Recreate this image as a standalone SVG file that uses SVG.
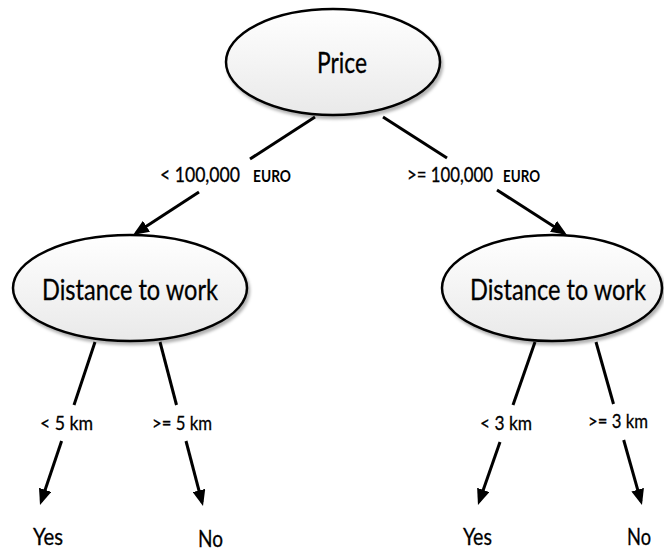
<svg xmlns="http://www.w3.org/2000/svg" width="664" height="551" viewBox="0 0 664 551">
<defs>
<linearGradient id="g" x1="0" y1="0" x2="0" y2="1">
<stop offset="0" stop-color="#ffffff"/>
<stop offset="1" stop-color="#e9e9e9"/>
</linearGradient>
<filter id="sh" x="-10%" y="-10%" width="125%" height="130%">
<feDropShadow dx="2" dy="3" stdDeviation="1.5" flood-color="#000" flood-opacity="0.3"/>
</filter>
<marker id="ah" viewBox="0 0 16 13" refX="12" refY="6.5" markerWidth="16" markerHeight="13" orient="auto" markerUnits="userSpaceOnUse">
<path d="M0,0 L16,6.5 L0,13 z" fill="#000"/>
</marker>
</defs>
<style>
.node{fill:url(#g);stroke:#000;stroke-width:2.5;filter:url(#sh)}
.lbl{font-family:Lato,"Liberation Sans",sans-serif;fill:#000;stroke:#000;stroke-width:0.3}
.big{font-size:29px}
.mid{font-size:21px}
.eu{font-size:17px;font-weight:bold;stroke-width:0}
.km{font-size:20px}
.leaf{font-size:24px}
.c line{stroke:#000;stroke-width:3}
</style>
<g id="price">
<ellipse class="node" cx="333" cy="62" rx="107" ry="53"/>
<text class="lbl big" x="317" y="73" textLength="50" lengthAdjust="spacingAndGlyphs">Price</text>
</g>
<g id="dist-left">
<ellipse class="node" cx="130" cy="288" rx="117" ry="53"/>
<text class="lbl big" x="42" y="300" textLength="176" lengthAdjust="spacingAndGlyphs">Distance to work</text>
</g>
<g id="dist-right">
<ellipse class="node" cx="552" cy="288" rx="110" ry="53"/>
<text class="lbl big" x="470" y="300" textLength="176" lengthAdjust="spacingAndGlyphs">Distance to work</text>
</g>
<g id="yes-left"><text class="lbl leaf" x="33" y="545" textLength="30" lengthAdjust="spacingAndGlyphs">Yes</text></g>
<g id="no-left"><text class="lbl leaf" x="198" y="547" textLength="25" lengthAdjust="spacingAndGlyphs">No</text></g>
<g id="yes-right"><text class="lbl leaf" x="463" y="545" textLength="29" lengthAdjust="spacingAndGlyphs">Yes</text></g>
<g id="no-right"><text class="lbl leaf" x="627" y="545" textLength="24" lengthAdjust="spacingAndGlyphs">No</text></g>
<g id="connectors" class="c">
<line x1="315" y1="117" x2="250" y2="159"/>
<line x1="199" y1="192" x2="136.4" y2="232.8" marker-end="url(#ah)"/>
<line x1="383" y1="117" x2="447" y2="158"/>
<line x1="497" y1="190" x2="563.6" y2="232.8" marker-end="url(#ah)"/>
<line x1="95" y1="342" x2="74" y2="405"/>
<line x1="61.6" y1="441" x2="41.3" y2="501.2" marker-end="url(#ah)"/>
<line x1="160" y1="342" x2="176.5" y2="405"/>
<line x1="186" y1="441" x2="202" y2="502.1" marker-end="url(#ah)"/>
<line x1="535" y1="342" x2="513" y2="405"/>
<line x1="500" y1="442" x2="479.3" y2="501.2" marker-end="url(#ah)"/>
<line x1="596" y1="342" x2="613.5" y2="404"/>
<line x1="623.7" y1="440" x2="640.9" y2="501.2" marker-end="url(#ah)"/>
<text class="lbl mid" x="160" y="182" textLength="80" lengthAdjust="spacingAndGlyphs">&lt; 100,000</text>
<text class="lbl eu" x="253" y="182" textLength="38" lengthAdjust="spacingAndGlyphs">EURO</text>
<text class="lbl mid" x="407" y="182" textLength="86" lengthAdjust="spacingAndGlyphs">&gt;= 100,000</text>
<text class="lbl eu" x="503" y="182" textLength="37" lengthAdjust="spacingAndGlyphs">EURO</text>
<text class="lbl km" x="40" y="430" textLength="53" lengthAdjust="spacingAndGlyphs">&lt; 5 km</text>
<text class="lbl km" x="152" y="430" textLength="60" lengthAdjust="spacingAndGlyphs">&gt;= 5 km</text>
<text class="lbl km" x="480" y="430" textLength="52" lengthAdjust="spacingAndGlyphs">&lt; 3 km</text>
<text class="lbl km" x="588" y="428" textLength="60" lengthAdjust="spacingAndGlyphs">&gt;= 3 km</text>
</g>
</svg>
